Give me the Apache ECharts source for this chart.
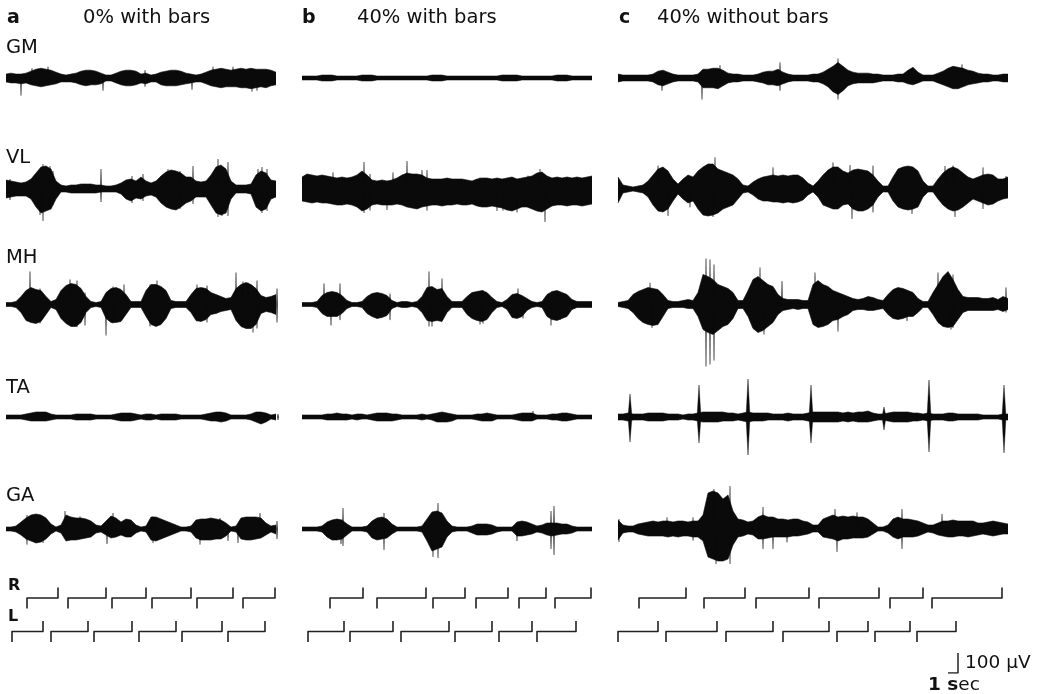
<!DOCTYPE html>
<html>
<head>
<meta charset="utf-8">
<script src="https://cdn.jsdelivr.net/npm/echarts@6/dist/echarts.min.js"></script>
<style>
  html, body { margin: 0; padding: 0; background: #fff; }
  #chart { width: 1039px; height: 694px; }
</style>
</head>
<body>
<div id="chart"></div>
<script>
// ---- labels ----
const muscles = ['GM', 'VL', 'MH', 'TA', 'GA'];
const panelLetters = ['a', 'b', 'c'];
const panelTitles = ['0% with bars', '40% with bars', '40% without bars'];
const footLabels = ['R', 'L'];
const scaleLabels = ['100 \u00b5V', '1 sec'];

// ---- time base ----
const sampleStep = 0.5;                    // s between envelope samples
const panelDurations = [27.2, 29.1, 39.0]; // s shown in each panel

// ---- EMG envelopes: µV above (up) and below (down) the baseline ----
// spikes: [time s, µV above, µV below]
// panel a : 0% with bars
const aGM_up   = [20,25,20,20,25,35,45,50,45,40,30,20,15,20,25,35,40,40,35,25,15,15,25,35,40,40,35,20,25,15,20,30,35,40,40,35,25,20,15,20,30,40,45,50,45,40,45,50,45,50,45,45,45,40,30];
const aGM_down = [20,25,25,30,25,35,40,45,40,35,30,20,20,20,25,35,40,35,35,30,15,15,25,35,40,40,35,25,30,20,20,35,40,40,40,35,30,25,20,20,30,40,45,50,45,45,45,50,50,55,50,45,50,40,35];
const aGM_spikes = [[1.5,0,90],[2.6,50,0],[4.2,58,0],[9.7,0,65],[13.9,40,45],[18.6,0,60],[20.7,58,0],[22.7,58,0],[24.6,0,70],[25.1,0,65]];

const aVL_up   = [45,40,35,30,35,50,80,110,115,100,40,20,15,20,20,25,25,25,20,20,15,15,20,30,45,50,40,60,40,30,40,65,85,95,90,80,60,60,40,35,40,70,110,120,100,40,20,20,20,25,70,90,80,45,40];
const aVL_down = [45,40,35,35,35,50,90,120,110,100,50,15,15,20,20,20,20,20,20,15,15,15,15,25,50,60,45,50,35,30,40,70,90,100,105,90,70,60,40,40,40,80,120,130,120,50,20,20,20,25,90,110,100,50,40];
const aVL_spikes = [[0.4,50,55],[3.4,0,130],[3.7,125,160],[4.4,115,100],[4.7,90,80],[9.5,100,65],[12.6,65,70],[13.7,75,60],[16.2,100,90],[17.4,90,100],[18.7,115,75],[21.2,150,140],[21.6,0,135],[22.2,135,135],[25.2,100,0],[25.6,110,120],[26.1,100,110]];

const aMH_up   = [10,10,15,40,70,85,75,70,40,15,25,70,95,105,100,80,40,15,10,15,60,80,85,75,50,15,15,15,70,100,100,90,70,20,15,15,15,50,80,85,80,60,50,40,30,35,80,100,110,100,80,45,35,40,50];
const aMH_down = [10,10,15,40,80,90,95,85,50,15,25,70,95,110,110,90,40,15,10,15,70,90,90,85,50,15,15,15,60,100,110,100,70,20,15,15,15,40,80,85,75,50,45,35,30,25,80,110,120,120,100,45,35,40,50];
const aMH_spikes = [[2.4,165,0],[3.4,80,95],[6.4,125,0],[7.1,120,113],[7.9,60,105],[10.0,0,155],[10.7,90,95],[11.8,100,0],[14.4,100,110],[15.1,120,105],[19.1,100,85],[20.1,95,90],[23.0,160,0],[23.7,115,113],[24.2,110,0],[24.7,0,140],[25.1,120,120],[27.1,80,90]];

const aTA_up   = [10,10,10,10,15,20,25,25,25,15,10,10,10,10,15,15,15,15,10,10,10,10,15,20,20,20,15,10,15,15,10,15,15,15,15,10,10,10,10,10,15,20,25,25,20,10,10,10,10,15,25,25,20,10,15];
const aTA_down = [10,10,10,10,15,20,20,20,20,15,10,10,10,10,15,15,15,15,10,10,10,10,15,20,20,20,15,10,15,15,10,15,15,15,15,10,10,10,10,10,15,20,20,25,20,10,10,10,10,15,25,35,25,10,15];
const aTA_spikes = [[27.2,15,15]];

const aGA_up   = [10,10,15,35,55,70,75,70,55,25,10,20,70,60,55,55,50,40,20,15,40,65,55,35,50,45,20,10,15,60,60,50,40,30,20,10,10,15,45,50,50,55,50,45,30,10,15,55,60,60,60,55,30,15,20];
const aGA_down = [10,10,15,30,50,60,70,65,50,25,10,20,60,55,55,50,45,40,20,15,30,45,40,30,40,40,20,10,15,55,60,50,40,30,20,10,10,15,45,55,55,55,50,50,35,10,15,50,55,55,50,45,30,15,25];
const aGA_spikes = [[2.1,70,78],[3.7,63,70],[5.9,90,0],[7.4,63,0],[10.1,0,75],[10.7,80,0],[14.7,63,70],[19.4,47,78],[21.4,55,0],[22.2,0,60],[23.2,0,70],[25.4,80,0],[27.1,40,50]];

// panel b : 40% with bars
const bGM_up   = [10,10,10,10,15,15,15,10,10,10,10,10,15,15,15,10,10,10,10,10,10,10,10,10,10,10,15,15,15,10,10,10,10,10,10,10,10,10,10,10,15,15,15,15,10,10,10,10,10,10,10,15,15,15,10,10,10,10,10];
const bGM_down = [10,10,10,10,15,15,15,10,10,10,10,10,15,15,15,10,10,10,10,10,10,10,10,10,10,10,15,15,15,10,10,10,10,10,10,10,10,10,10,10,15,15,15,15,10,10,10,10,10,10,10,15,15,15,10,10,10,10,10];
const bGM_spikes = [];

const bVL_up   = [60,75,70,65,70,65,60,55,60,55,60,70,90,70,45,40,45,40,45,55,70,80,75,75,70,55,50,50,50,55,50,50,50,45,40,50,55,55,50,55,50,55,60,50,55,60,65,80,85,65,55,60,55,60,55,60,55,60,65];
const bVL_down = [60,65,70,65,70,70,75,80,80,75,80,90,110,100,80,75,80,80,80,75,80,90,95,100,90,85,80,80,85,80,80,75,80,80,75,85,90,90,85,90,95,105,110,100,90,90,100,110,115,100,85,80,80,85,80,80,85,80,75];
const bVL_spikes = [[3.1,83,0],[6.2,135,120],[6.8,75,108],[8.5,0,105],[9.1,83,0],[10.5,140,0],[12.0,95,0],[12.5,95,108],[17.8,58,90],[19.5,0,110],[20.1,0,108],[21.5,0,117],[22.6,67,0],[23.8,100,0],[24.3,0,165]];

const bMH_up   = [10,10,10,15,45,60,65,60,45,20,10,10,15,40,55,60,55,45,20,10,15,15,10,15,40,85,90,75,80,40,15,15,15,40,60,65,70,60,35,15,10,25,50,55,45,30,15,10,15,50,65,70,60,50,25,15,15,15,15];
const bMH_down = [10,10,10,15,45,60,60,60,45,20,10,10,15,45,60,70,65,55,20,10,15,15,10,15,40,80,85,80,85,40,15,15,15,50,70,80,85,75,40,15,10,25,65,70,60,30,15,10,15,60,75,80,70,60,25,15,15,15,15];
const bMH_spikes = [[2.2,105,0],[2.9,0,105],[3.8,105,78],[8.8,55,78],[12.7,165,110],[13.0,0,110],[14.0,130,0],[17.8,0,100],[18.1,72,95],[21.6,80,0],[22.1,0,70],[24.9,0,105],[25.8,63,78]];

const bTA_up   = [10,10,10,10,10,15,15,20,15,15,10,15,15,10,15,20,20,20,15,15,10,10,10,10,15,10,15,20,25,20,15,10,10,10,10,15,15,20,15,10,10,10,10,15,20,20,20,10,10,10,15,15,20,20,15,10,10,10,10];
const bTA_down = [10,10,10,10,10,15,15,15,15,15,10,15,10,10,15,20,20,20,20,15,10,10,10,10,15,10,15,25,25,25,20,10,10,10,10,15,20,20,20,10,10,10,10,15,20,20,20,10,10,10,15,15,20,20,15,10,10,10,10];
const bTA_spikes = [[23.1,30,0]];

const bGA_up   = [10,10,10,10,15,35,45,50,45,25,10,10,10,15,40,55,60,50,25,10,10,10,10,10,15,50,85,90,80,40,15,10,10,10,15,25,25,25,20,10,10,10,10,35,40,35,25,15,20,30,30,30,25,25,15,10,10,10,10];
const bGA_down = [10,10,10,10,15,40,55,55,50,30,10,10,10,15,45,55,50,45,25,10,10,10,10,10,15,60,110,100,90,40,15,10,10,10,20,30,30,30,25,15,10,10,10,35,35,30,25,15,20,30,35,30,25,25,20,10,10,10,10];
const bGA_spikes = [[3.9,0,75],[4.1,105,85],[8.2,80,105],[13.1,0,140],[13.6,130,145],[21.5,0,60],[24.9,90,100],[25.2,115,130]];

// panel c : 40% without bars
const cGM_up   = [20,15,15,15,15,15,15,20,35,40,30,20,15,15,15,15,20,45,45,50,50,40,25,20,20,15,15,15,20,30,35,35,45,30,20,15,15,15,15,20,20,30,45,60,80,60,40,30,25,25,25,20,20,15,15,15,20,20,40,55,30,15,15,15,25,35,50,60,55,50,40,35,25,20,20,15,15,20,20];
const cGM_down = [20,15,15,15,15,15,15,20,35,40,30,20,15,15,15,15,20,50,50,50,55,40,25,20,20,15,15,15,20,25,35,35,40,30,20,15,15,15,15,20,20,30,45,70,85,65,40,30,25,25,25,25,20,15,15,15,20,20,30,35,25,15,15,15,25,35,45,55,55,45,35,30,25,20,20,15,15,20,20];
const cGM_spikes = [[4.4,0,65],[8.4,0,110],[10.2,65,0],[16.2,80,65],[22.0,100,110],[34.4,70,0]];

const cVL_up   = [60,20,15,10,15,20,40,70,100,110,90,50,25,50,70,60,90,110,125,125,100,90,80,70,50,20,15,35,50,60,65,70,65,70,65,70,70,55,30,15,40,70,95,110,110,90,80,95,100,95,90,70,40,15,15,60,100,110,115,110,90,40,15,15,50,80,100,110,100,80,60,50,60,70,75,70,50,50,60];
const cVL_down = [70,20,15,10,15,20,40,80,110,115,100,60,25,50,70,60,100,130,135,130,120,100,90,80,50,20,15,30,50,60,60,65,65,70,65,70,65,55,30,15,40,80,90,100,100,80,75,100,110,110,100,80,40,15,15,60,90,100,105,100,90,40,15,15,50,80,100,110,105,90,70,50,60,70,80,75,60,50,45];
const cVL_spikes = [[4.0,117,0],[5.0,0,135],[7.2,58,92],[9.5,0,140],[9.7,158,0],[15.5,108,0],[21.5,133,0],[23.2,120,0],[23.4,0,150],[25.5,117,117],[29.4,0,125],[32.7,115,0],[33.5,117,0],[33.7,0,140],[36.5,108,100],[38.8,65,40]];

const cMH_up   = [10,15,20,50,65,75,85,80,75,50,20,15,15,20,25,20,60,150,140,125,100,90,80,60,20,20,70,125,140,120,100,90,50,30,25,25,25,20,20,100,120,100,90,70,60,50,40,30,25,30,40,35,25,20,50,75,85,80,70,60,30,15,15,60,100,140,165,125,75,40,35,35,35,30,30,35,25,40,30];
const cMH_down = [10,15,20,40,70,90,100,105,100,60,20,15,15,15,20,20,60,125,140,150,130,110,100,70,20,20,60,120,140,130,110,90,50,30,25,20,25,20,20,100,115,110,100,80,75,60,50,30,25,25,30,30,25,20,50,70,75,70,60,60,40,15,15,50,90,110,115,110,75,40,30,30,30,30,30,30,25,35,25];
const cMH_spikes = [[3.2,108,0],[3.4,0,117],[8.8,230,310],[9.2,225,300],[9.6,200,280],[14.2,185,0],[14.6,0,150],[16.4,117,0],[19.7,160,0],[22.0,0,135],[28.9,0,83],[32.0,160,0],[33.3,0,125],[33.5,150,117],[38.8,85,40]];

const cTA_up   = [15,15,20,15,15,15,20,20,20,20,15,15,15,10,15,15,20,25,25,25,25,25,20,20,15,20,25,20,20,20,20,15,15,15,20,15,15,15,20,25,25,25,25,25,25,20,25,20,25,25,30,20,15,15,20,25,25,25,25,20,20,15,20,15,15,15,20,20,15,15,15,15,15,10,10,10,10,15,15];
const cTA_down = [15,15,20,15,15,15,20,20,20,20,15,15,15,10,15,15,20,25,25,25,25,20,20,20,15,20,25,20,20,20,15,15,15,15,20,15,15,15,20,25,25,25,25,25,25,20,25,20,25,25,25,20,15,15,20,25,25,25,25,20,20,15,20,15,15,15,20,20,15,15,15,15,15,10,10,10,10,15,15];
const cTA_spikes = [[1.2,115,125],[8.1,160,130],[13.0,190,190],[19.3,160,130],[26.6,50,65],[31.1,185,175],[38.6,160,180]];

const cGA_up   = [45,20,15,15,25,30,35,40,35,40,40,35,40,40,35,40,40,70,180,190,180,150,170,90,50,45,35,40,60,70,60,60,50,50,45,50,50,40,35,20,20,50,60,70,60,65,60,65,60,60,50,30,10,10,20,50,60,50,50,45,40,30,20,20,30,40,40,45,40,40,40,40,30,30,35,40,35,30,25];
const cGA_down = [55,20,15,15,25,30,35,35,35,35,40,35,40,35,35,40,40,60,140,150,160,160,150,80,40,35,25,30,50,50,45,40,40,40,40,35,35,30,25,15,15,40,45,50,60,50,50,45,45,45,40,25,10,10,20,40,50,40,40,40,35,25,15,20,30,35,40,40,35,35,40,35,30,25,30,35,30,25,25];
const cGA_spikes = [[0.1,50,65],[4.9,58,0],[7.5,58,58],[9.6,200,0],[9.8,0,175],[11.2,215,175],[14.5,110,100],[15.5,0,100],[16.9,0,67],[21.7,100,0],[21.9,0,115],[23.9,83,0],[28.4,100,100],[32.4,75,0]];

// ---- foot contact (footswitch) intervals, [on, off] in s ----
const aFootR = [[2.1,5.2],[6.2,10.0],[10.6,14.0],[14.6,18.5],[19.1,22.7],[23.7,26.9]];
const aFootL = [[0.6,3.7],[4.5,8.2],[8.8,12.6],[13.3,17.0],[17.6,21.6],[22.2,25.9]];
const bFootR = [[2.8,6.1],[7.5,12.4],[13.1,16.3],[17.4,20.6],[21.7,24.4],[25.3,28.9]];
const bFootL = [[0.6,4.2],[4.8,9.1],[9.9,14.7],[15.3,19.0],[19.7,23.0],[23.5,27.4]];
const cFootR = [[2.1,6.8],[8.6,12.7],[13.8,19.1],[20.1,26.1],[27.2,30.5],[31.4,38.4]];
const cFootL = [[0.0,4.0],[4.8,9.9],[10.8,15.5],[16.5,21.1],[21.9,25.0],[25.7,29.2],[29.9,33.8]];

// ---- calibration bar ----
const scaleTime = 1;      // s
const scaleAmp = 100;     // µV

// ---------------------------------------------------------------
// layout
const PX_PER_SEC = 10;
const PX_PER_UV = 0.2;
const AMP_RANGE = 400;                       // µV shown either side of baseline
const panelLeft = [6, 302, 618];
const rowBaseline = [76, 189, 304.5, 417, 529];
const labelY = [48, 158, 258, 388, 496];
const footLineY = [598, 631.5];
const FOOT_TICK = 10.5;
const SEAM = 4;                              // µV overlap so both halves meet without a gap

const traces = [
  [[aGM_up,aGM_down,aGM_spikes],[aVL_up,aVL_down,aVL_spikes],[aMH_up,aMH_down,aMH_spikes],[aTA_up,aTA_down,aTA_spikes],[aGA_up,aGA_down,aGA_spikes]],
  [[bGM_up,bGM_down,bGM_spikes],[bVL_up,bVL_down,bVL_spikes],[bMH_up,bMH_down,bMH_spikes],[bTA_up,bTA_down,bTA_spikes],[bGA_up,bGA_down,bGA_spikes]],
  [[cGM_up,cGM_down,cGM_spikes],[cVL_up,cVL_down,cVL_spikes],[cMH_up,cMH_down,cMH_spikes],[cTA_up,cTA_down,cTA_spikes],[cGA_up,cGA_down,cGA_spikes]]
];
const feet = [[aFootR,aFootL],[bFootR,bFootL],[cFootR,cFootL]];

const INK = '#0a0a0a';
const grids = [], xAxes = [], yAxes = [], series = [];

function addGrid(left, top, width, height, xMin, xMax, yMin, yMax) {
  const i = grids.length;
  grids.push({ left, top, width, height, containLabel: false, show: false });
  xAxes.push({ type: 'value', gridIndex: i, min: xMin, max: xMax, show: false });
  yAxes.push({ type: 'value', gridIndex: i, min: yMin, max: yMax, show: false });
  return i;
}

function spikeSeries(idx, spikes, halfW) {
  return {
    type: 'custom', xAxisIndex: idx, yAxisIndex: idx, silent: true, z: 3,
    data: spikes,
    renderItem(params, api) {
      const t = api.value(0), up = api.value(1), dn = api.value(2);
      const top = api.coord([t, up]);
      const base = api.coord([t, 0]);
      const bot = api.coord([t, -dn]);
      return {
        type: 'polygon',
        shape: { points: [top, [base[0] + halfW, base[1]], bot, [base[0] - halfW, base[1]]] },
        style: { fill: INK, stroke: INK, lineWidth: 0.4 }
      };
    }
  };
}

for (let c = 0; c < 3; c++) {
  const dur = panelDurations[c];
  const w = dur * PX_PER_SEC;
  for (let r = 0; r < 5; r++) {
    const [up, down, spikes] = traces[c][r];
    const half = AMP_RANGE * PX_PER_UV;
    const gi = addGrid(panelLeft[c], rowBaseline[r] - half, w, half * 2, 0, dur, -AMP_RANGE, AMP_RANGE);
    const common = {
      type: 'line', xAxisIndex: gi, yAxisIndex: gi, symbol: 'none', silent: true,
      lineStyle: { width: 0.6, color: INK }, z: 2
    };
    series.push(Object.assign({}, common, {
      data: up.map((v, i) => [i * sampleStep, v]),
      areaStyle: { color: INK, opacity: 1, origin: -SEAM }
    }));
    series.push(Object.assign({}, common, {
      data: down.map((v, i) => [i * sampleStep, -v]),
      areaStyle: { color: INK, opacity: 1, origin: SEAM }
    }));
    const halfW = (c === 2 && r === 3) ? 2.0 : 0.55;
    series.push(spikeSeries(gi, spikes, halfW));
  }
  // footswitch traces
  for (let f = 0; f < 2; f++) {
    const gi = addGrid(panelLeft[c], footLineY[f] - FOOT_TICK, w, FOOT_TICK * 2, 0, dur, -1, 1);
    series.push({
      type: 'custom', xAxisIndex: gi, yAxisIndex: gi, silent: true,
      data: feet[c][f],
      renderItem(params, api) {
        const on = api.value(0), off = api.value(1);
        return {
          type: 'polyline',
          shape: { points: [api.coord([on, -1]), api.coord([on, 0]), api.coord([off, 0]), api.coord([off, 1])] },
          style: { stroke: '#222', lineWidth: 1.6, fill: null, lineJoin: 'round' }
        };
      }
    });
  }
}

// calibration bar: 1 s horizontal, 100 µV vertical
const sgi = addGrid(948, 653, scaleTime * PX_PER_SEC, scaleAmp * PX_PER_UV, 0, scaleTime, 0, scaleAmp);
series.push({
  type: 'line', xAxisIndex: sgi, yAxisIndex: sgi, symbol: 'none', silent: true,
  data: [[0, 0], [scaleTime, 0], [scaleTime, scaleAmp]],
  lineStyle: { color: '#222', width: 1.5 }
});

// text
const FONT = '"DejaVu Sans", "Liberation Sans", Arial, sans-serif';
const graphic = [];
function addText(text, x, y, size, weight) {
  graphic.push({
    type: 'text', x, y, silent: true,
    style: { text, fontFamily: FONT, fontSize: size, fontWeight: weight || 'normal', fill: '#111', verticalAlign: 'middle', align: 'left' }
  });
}
const letterX = [7, 302, 619];
const titleX = [83, 357, 657];
for (let c = 0; c < 3; c++) {
  addText(panelLetters[c], letterX[c], 18, 19, 'bold');
  addText(panelTitles[c], titleX[c], 18, 19.5, 'normal');
}
for (let r = 0; r < 5; r++) addText(muscles[r], 6, labelY[r], 19.5, 'normal');
addText(footLabels[0], 8, 586, 16, 'bold');
addText(footLabels[1], 8, 617, 16, 'bold');
addText(scaleLabels[0], 965, 663, 18.5, 'normal');
graphic.push({
  type: 'text', x: 928, y: 685, silent: true,
  style: {
    text: '{b|1 s}{n|ec}', fontFamily: FONT, fontSize: 18.5, fill: '#111', verticalAlign: 'middle',
    rich: { b: { fontWeight: 'bold', fontFamily: FONT, fontSize: 18.5 }, n: { fontFamily: FONT, fontSize: 18.5 } }
  }
});

const chart = echarts.init(document.getElementById('chart'), null, { renderer: 'canvas' });
chart.setOption({
  animation: false,
  backgroundColor: '#fff',
  grid: grids, xAxis: xAxes, yAxis: yAxes,
  series, graphic
});
</script>
</body>
</html>
